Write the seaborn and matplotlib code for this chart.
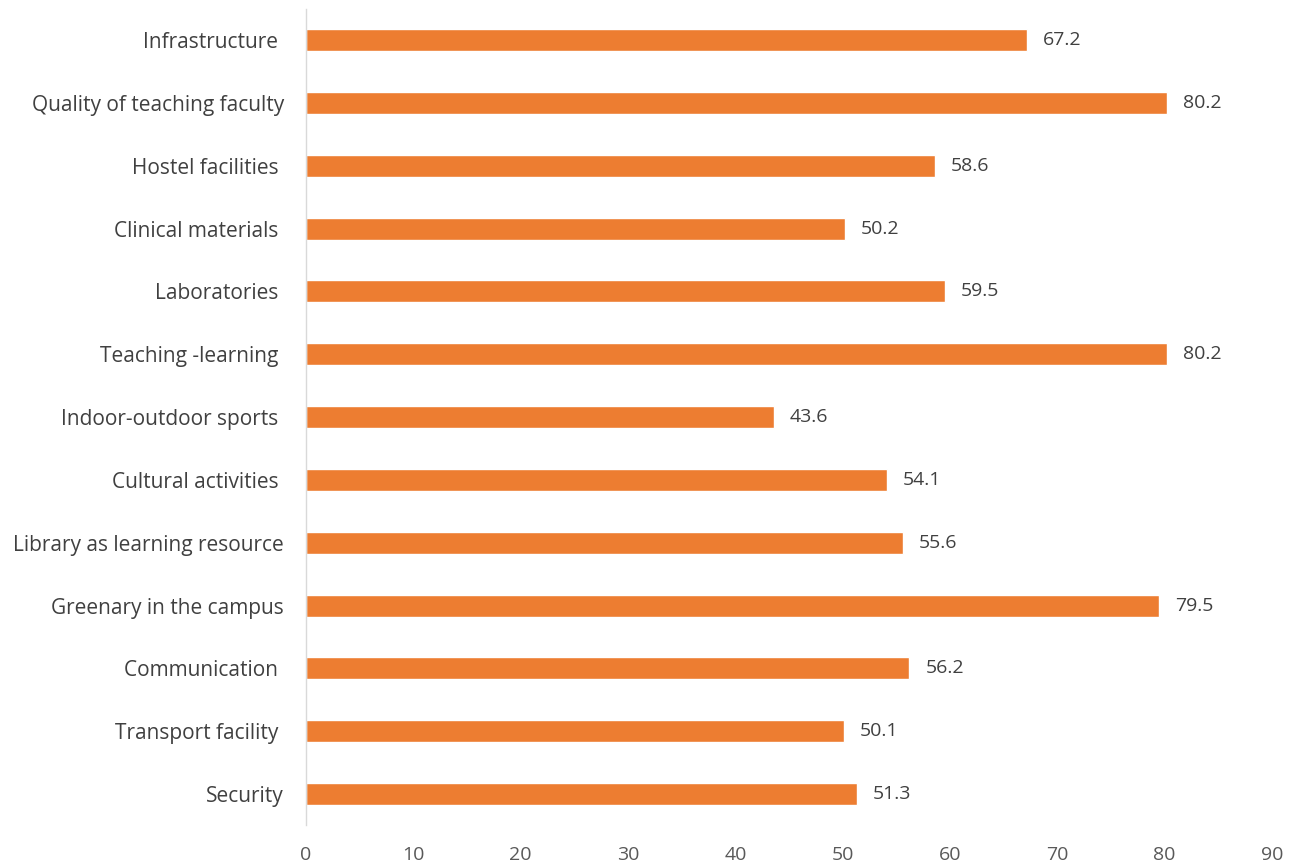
import matplotlib
matplotlib.use("Agg")
import matplotlib.pyplot as plt
import seaborn as sns
import pandas as pd

sns.set_theme(style="white")
plt.rcParams['font.family'] = ['Open Sans', 'DejaVu Sans']

# data
categories = [
    "Infrastructure ",
    "Quality of teaching faculty",
    "Hostel facilities ",
    "Clinical materials ",
    "Laboratories ",
    "Teaching -learning ",
    "Indoor-outdoor sports ",
    "Cultural activities ",
    "Library as learning resource",
    "Greenary in the campus",
    "Communication ",
    "Transport facility ",
    "Security",
]
values = [67.2, 80.2, 58.6, 50.2, 59.5, 80.2, 43.6, 54.1, 55.6, 79.5, 56.2, 50.1, 51.3]
x_ticks = [0, 10, 20, 30, 40, 50, 60, 70, 80, 90]

df = pd.DataFrame({"category": categories, "value": values})

fig = plt.figure(figsize=(12.95, 8.68), dpi=100)
ax = fig.add_axes([0.2363, 0.049, 0.7459, 0.941])

sns.barplot(data=df, y="category", x="value", color="#ED7D31",
            saturation=1, width=0.35, ax=ax)

for i, v in enumerate(values):
    ax.text(v + 1.5, i, f"{v:.1f}", va="center", ha="left",
            fontsize=14, color="#404040")

ax.set_xlim(0, 90)
ax.set_xticks(x_ticks)
ax.set_xlabel("")
ax.set_ylabel("")
ax.tick_params(axis="x", labelsize=14, colors="#595959", length=0, pad=15)
ax.tick_params(axis="y", labelsize=15, colors="#404040", length=0, pad=16)
for s in ["top", "right", "bottom"]:
    ax.spines[s].set_visible(False)
ax.spines["left"].set_color("#D9D9D9")
ax.spines["left"].set_linewidth(1)

fig.savefig("out.png", dpi=100)
